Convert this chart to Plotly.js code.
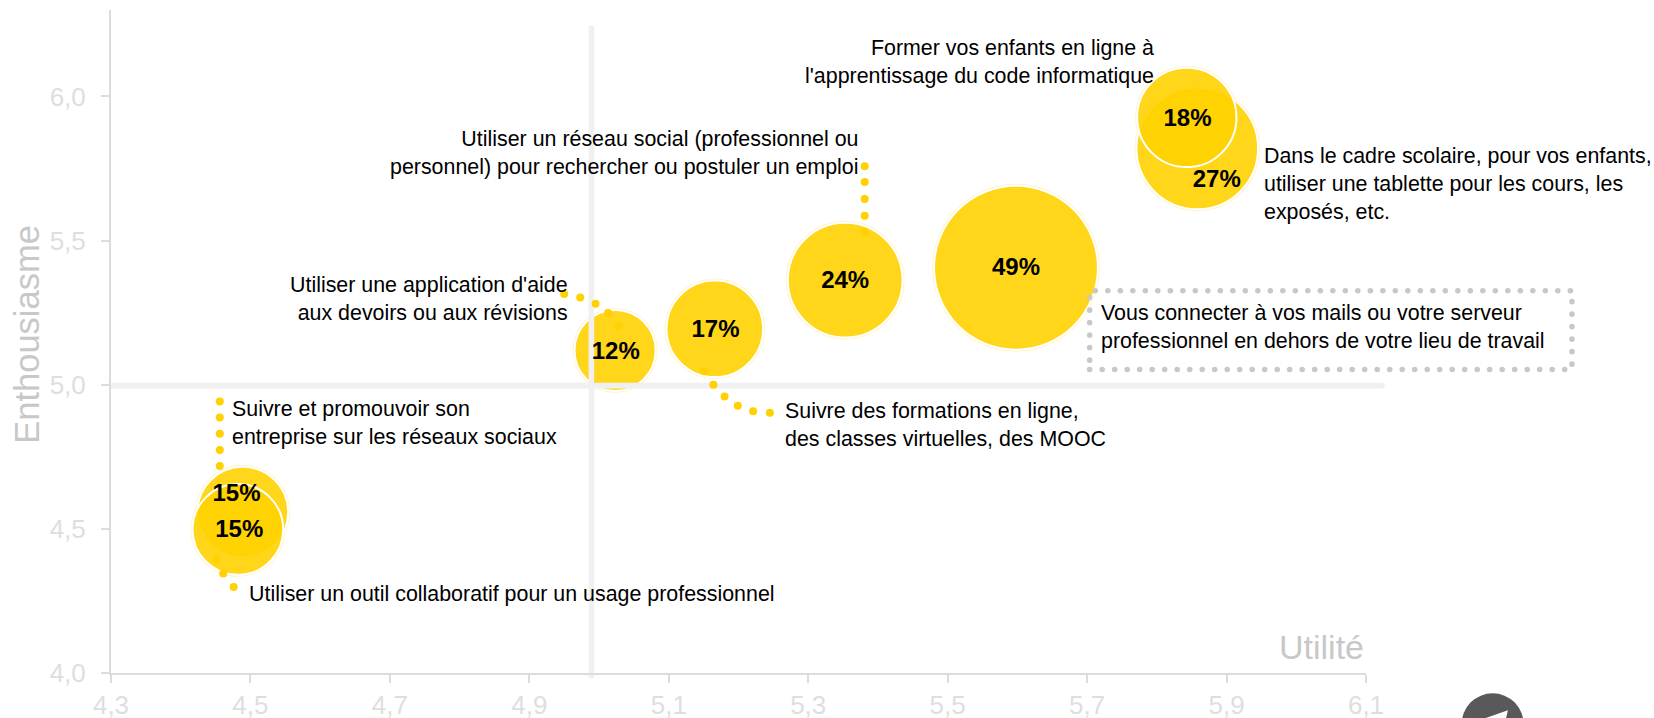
<!DOCTYPE html>
<html><head><meta charset="utf-8">
<script src="https://cdn.plot.ly/plotly-3.0.1.min.js"></script>
<style>
html,body{margin:0;padding:0;background:#fff}
.shapelayer path{stroke-linecap:round}
</style></head><body>
<div id="chart" style="width:1654px;height:718px"></div>
<script>
// Bubbles: utility, enthusiasm, share (drawn in back-to-front order)
const bubbleUtility    = [5.858, 5.843, 5.598, 5.353, 5.166, 5.023, 4.489, 4.482];
const bubbleEnthusiasm = [5.820, 5.927, 5.406, 5.363, 5.194, 5.119, 4.558, 4.498];
const bubbleShare      = [27, 18, 49, 24, 17, 12, 15, 15];
const bubbleLabels     = ['27%','18%','49%','24%','17%','12%','15%','15%'];
const labelUtility     = [5.886, 5.844, 5.598, 5.353, 5.167, 5.024, 4.480, 4.484];
const labelEnthusiasm  = [5.706, 5.918, 5.402, 5.356, 5.186, 5.110, 4.618, 4.491];

// Leader dots
const leaderUtility    = [4.456,4.456,4.456,4.456,4.456, 4.451,4.461,4.476, 4.950,4.973,4.995,5.013,5.028, 5.151,5.164,5.180,5.199,5.221,5.245, 5.381,5.381,5.381,5.381,5.381];
const leaderEnthusiasm = [4.942,4.886,4.830,4.774,4.718, 4.394,4.345,4.298, 5.315,5.303,5.281,5.249,5.205, 5.047,5.000,4.959,4.927,4.908,4.903, 5.758,5.703,5.644,5.586,5.531];

// Text notes
const noteTexts = [
 "Former vos enfants en ligne à<br>l'apprentissage du code informatique",
 "Dans le cadre scolaire, pour vos enfants,<br>utiliser une tablette pour les cours, les<br>exposés, etc.",
 "Utiliser un réseau social (professionnel ou<br>personnel) pour rechercher ou postuler un emploi",
 "Utiliser une application d'aide<br>aux devoirs ou aux révisions",
 "Suivre et promouvoir son<br>entreprise sur les réseaux sociaux",
 "Suivre des formations en ligne,<br>des classes virtuelles, des MOOC",
 "Vous connecter à vos mails ou votre serveur<br>professionnel en dehors de votre lieu de travail",
 "Utiliser un outil collaboratif pour un usage professionnel"
];
const noteUtility    = [5.799, 5.951, 5.374, 4.958, 4.471, 5.264, 5.717, 4.495];
const noteEnthusiasm = [6.120, 5.696, 5.803, 5.298, 4.869, 4.862, 5.202, 4.273];
const noteSide       = ['right','left','right','right','left','left','left','left'];

const xTickValues = [4.3,4.5,4.7,4.9,5.1,5.3,5.5,5.7,5.9,6.1];
const yTickValues = [4,4.5,5,5.5,6];

const YEL='#FFD100', AX='#dcdcdc', TK='#dedede', REF='#f0f0f0';
const traces = [
 {type:'scatter',mode:'markers',x:bubbleUtility,y:bubbleEnthusiasm,hoverinfo:'skip',
  marker:{size:bubbleShare,sizemode:'area',sizeref:0.00365,color:'rgba(0,0,0,0)',line:{color:'#fff2b8',width:4}}},
 {type:'scatter',mode:'markers',x:bubbleUtility,y:bubbleEnthusiasm,hoverinfo:'skip',
  marker:{size:bubbleShare,sizemode:'area',sizeref:0.00365,color:'rgba(255,209,0,0.9)',opacity:1,
          line:{color:'#ffffff',width:2}}},
 {type:'scatter',mode:'lines',x:[4.3,6.1],y:[4.997,4.997],line:{color:REF,width:5.6},hoverinfo:'skip'},
 {type:'scatter',mode:'lines',x:[4.989,4.989],y:[4,6.245],line:{color:REF,width:5.6},hoverinfo:'skip'},
 {type:'scatter',mode:'markers',x:leaderUtility,y:leaderEnthusiasm,marker:{size:8,color:YEL},hoverinfo:'skip'},
 {type:'scatter',mode:'text',x:labelUtility,y:labelEnthusiasm,text:bubbleLabels,textposition:'middle center',
  textfont:{family:'Liberation Sans',size:24,color:'#000',weight:700},hoverinfo:'skip',cliponaxis:false}
];
const annotations = noteTexts.map((t,i)=>({x:noteUtility[i],y:noteEnthusiasm[i],xref:'x',yref:'y',text:t,showarrow:false,
  xanchor:noteSide[i],yanchor:'middle',align:noteSide[i],font:{family:'Liberation Sans',size:21.4,color:'#000'}}));
annotations.push({x:6.1,y:4.017,xref:'x',yref:'y',text:'Utilité',showarrow:false,xanchor:'right',yanchor:'bottom',
  font:{family:'Liberation Sans',size:34,color:'#c8c8c8'}});
annotations.push({x:-0.0665,y:0.511,xref:'paper',yref:'paper',text:'Enthousiasme',showarrow:false,textangle:-90,
  xanchor:'center',yanchor:'middle',font:{family:'Liberation Sans',size:34.5,color:'#c8c8c8'}});
const layout = {
 width:1654,height:718,paper_bgcolor:'#fff',plot_bgcolor:'#fff',showlegend:false,separators:', ',
 margin:{l:110.5,r:288,t:9.5,b:45.3},
 font:{family:'Liberation Sans'},
 xaxis:{range:[4.3,6.1],tickvals:xTickValues,tickformat:'.1f',showgrid:false,zeroline:false,showline:true,linecolor:AX,linewidth:2,
        ticks:'outside',ticklen:8,tickcolor:AX,tickwidth:2,tickfont:{size:26,color:TK,family:'Liberation Sans'},ticklabelstandoff:0},
 yaxis:{range:[4,6.3],tickvals:yTickValues,tickformat:'.1f',showgrid:false,zeroline:false,showline:true,linecolor:AX,linewidth:2,
        ticks:'outside',ticklen:8,tickcolor:AX,tickwidth:2,tickfont:{size:26,color:TK,family:'Liberation Sans'},ticklabelstandoff:10},
 annotations,
 shapes:[
  {type:'line',xref:'paper',yref:'paper',x0:1,x1:1.0127,y0:0.4335,y1:0.4335,layer:'below',line:{color:REF,width:5.6}},
  {type:'line',xref:'paper',yref:'paper',x0:0.3828,x1:0.3828,y0:0,y1:-0.004,layer:'below',line:{color:REF,width:5.6}},
  {type:'rect',xref:'paper',yref:'paper',x0:0.7798,x1:1.1641,y0:0.4579,y1:0.5765,layer:'above',
   line:{color:'#c8c8c8',width:5.5,dash:'0.1px,12.4px'},fillcolor:'rgba(0,0,0,0)'},
  {type:'circle',xref:'paper',yref:'paper',x0:1.0762,x1:1.1256,y0:-0.1241,y1:-0.0306,layer:'above',fillcolor:'#595959',line:{width:0}},
  {type:'path',xref:'paper',yref:'paper',path:'M 1.1131,-0.0562 L 1.0948,-0.0683 L 1.0948,-0.075 L 1.1107,-0.075 Z',layer:'above',fillcolor:'#ffffff',line:{width:0}}
 ]
};
Plotly.newPlot('chart',traces,layout,{displayModeBar:false,responsive:false});
</script></body></html>
